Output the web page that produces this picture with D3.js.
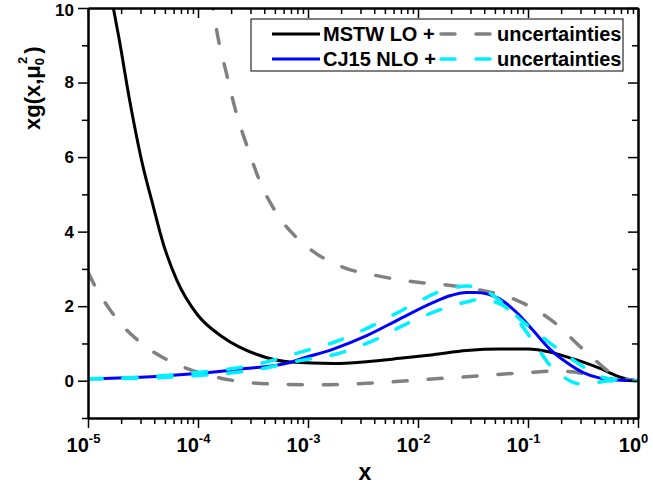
<!DOCTYPE html>
<html>
<head>
<meta charset="utf-8">
<script src="https://cdn.jsdelivr.net/npm/d3@7"></script>
<style>
  body { margin: 0; background: #fff; }
  svg text { font-family: Arial, "Liberation Sans", sans-serif; font-weight: bold; }
</style>
</head>
<body>
<figure id="chart" style="margin:0"></figure>
<script>
// x values of each curve and the gluon densities
const mstwX = [1.58e-5, 1.91e-5, 2.40e-5, 3.16e-5, 3.80e-5, 4.84e-5, 6.46e-5, 9.77e-5, 1.70e-4, 3.39e-4, 6.92e-4,
  1.70e-3, 3.42e-3, 6.85e-3, 1.38e-2, 2.77e-2, 5.56e-2, 0.1, 0.158, 0.225, 0.318, 0.452, 0.64, 0.83, 1.0];
const mstwY = [10.5, 9.2, 7.5, 5.75, 4.83, 3.67, 2.68, 1.79, 1.16, 0.71, 0.50,
  0.46, 0.51, 0.60, 0.70, 0.81, 0.85, 0.85, 0.77, 0.64, 0.50, 0.33, 0.13, 0.03, 0.0];

const mstwUpX = [1.32e-4, 1.48e-4, 1.82e-4, 2.24e-4, 2.75e-4, 3.80e-4, 5.19e-4, 9.77e-4, 2.02e-3, 4.22e-3,
  8.77e-3, 1.82e-2, 3.72e-2, 7.74e-2, 0.164, 0.330, 0.652, 1.0];
const mstwUpY = [10.35, 9.39, 8.23, 7.16, 6.35, 5.23, 4.49, 3.60, 3.06, 2.82,
  2.66, 2.57, 2.43, 2.17, 1.62, 0.80, 0.11, 0.0];

const mstwLowX = [1.0e-5, 1.12e-5, 1.76e-5, 3.53e-5, 7.48e-5, 1.50e-4, 3.18e-4, 6.62e-4, 1.38e-3, 2.86e-3,
  5.96e-3, 1.24e-2, 2.58e-2, 5.37e-2, 0.112, 0.178, 0.251, 0.355, 0.501, 0.708, 1.0];
const mstwLowY = [2.91, 2.62, 1.72, 0.87, 0.36, 0.09, -0.06, -0.10, -0.11, -0.08,
  -0.03, 0.04, 0.10, 0.17, 0.23, 0.26, 0.24, 0.16, 0.07, 0.02, 0.0];

const cjX = [1.0e-5, 2.97e-5, 8.45e-5, 2.41e-4, 6.85e-4, 8.45e-4, 1.70e-3, 3.42e-3, 6.85e-3, 1.38e-2, 1.95e-2,
  2.77e-2, 3.42e-2, 4.22e-2, 5.56e-2, 7.89e-2, 0.112, 0.158, 0.225, 0.318, 0.452, 0.64, 1.0];
const cjY = [0.05, 0.09, 0.18, 0.31, 0.49, 0.58, 0.85, 1.21, 1.66, 2.10, 2.28,
  2.37, 2.37, 2.33, 2.19, 1.83, 1.34, 0.85, 0.49, 0.22, 0.07, 0.02, 0.0];

const cjUpX = [1.0e-5, 3.16e-5, 1.0e-4, 3.16e-4, 8.45e-4, 1.95e-3, 4.0e-3, 8.32e-3, 1.76e-2, 2.82e-2, 3.80e-2,
  5.01e-2, 6.46e-2, 8.71e-2, 0.129, 0.182, 0.275, 0.363, 0.479, 0.692, 1.0];
const cjUpY = [0.05, 0.10, 0.22, 0.42, 0.76, 1.09, 1.50, 1.99, 2.44, 2.54, 2.47,
  2.25, 1.98, 1.62, 1.22, 0.88, 0.50, 0.27, 0.09, 0.02, 0.0];

const cjLowX = [1.0e-5, 3.16e-5, 1.0e-4, 3.16e-4, 8.45e-4, 1.95e-3, 4.0e-3, 8.32e-3, 1.76e-2, 2.82e-2, 3.63e-2,
  4.79e-2, 6.31e-2, 7.94e-2, 0.1, 0.126, 0.158, 0.2, 0.251, 0.316, 0.398, 0.525, 0.708, 1.0];
const cjLowY = [0.05, 0.07, 0.14, 0.28, 0.54, 0.74, 1.09, 1.56, 1.95, 2.12, 2.18,
  2.13, 1.97, 1.65, 1.25, 0.82, 0.42, 0.15, -0.03, -0.09, -0.06, -0.01, 0.0, 0.0];

const xMajor = [1e-5, 1e-4, 1e-3, 1e-2, 1e-1, 1];
const xExponents = ["-5", "-4", "-3", "-2", "-1", "0"];
const yMajor = [0, 2, 4, 6, 8, 10];
const yMinor = [-1, 1, 3, 5, 7, 9];

const width = 653, height = 488;
const margin = {top: 8, right: 15, bottom: 70, left: 88};
const w = width - margin.left - margin.right;
const h = height - margin.top - margin.bottom;

const svg = d3.select("#chart").append("svg")
  .attr("width", width)
  .attr("height", height);

const g = svg.append("g")
  .attr("transform", "translate(" + margin.left + "," + margin.top + ")");

const x = d3.scaleLog().domain([1e-5, 1]).range([0, w]);
const y = d3.scaleLinear().domain([-1, 10]).range([h, 0]);

// minor log ticks 2..9 in every decade
const xMinor = [];
xMajor.slice(0, -1).forEach(d => {
  for (let k = 2; k <= 9; k++) xMinor.push(d * k);
});

g.append("clipPath").attr("id", "plot-clip")
  .append("rect").attr("width", w).attr("height", h);

const line = d3.line()
  .x(d => x(d[0]))
  .y(d => y(d[1]))
  .curve(d3.curveMonotoneX);

const series = [
  {xs: mstwX, ys: mstwY, color: "#000000", dash: null},
  {xs: mstwUpX, ys: mstwUpY, color: "#808080", dash: "14,21"},
  {xs: mstwLowX, ys: mstwLowY, color: "#808080", dash: "14,21"},
  {xs: cjX, ys: cjY, color: "#0000ff", dash: null},
  {xs: cjUpX, ys: cjUpY, color: "#00f0ff", dash: "14,21"},
  {xs: cjLowX, ys: cjLowY, color: "#00f0ff", dash: "14,21"}
];

const curves = g.append("g").attr("clip-path", "url(#plot-clip)");
series.forEach(s => {
  curves.append("path")
    .datum(s.xs.map((v, i) => [v, s.ys[i]]))
    .attr("fill", "none")
    .attr("stroke", s.color)
    .attr("stroke-width", s.dash ? 3.5 : 3)
    .attr("stroke-linecap", s.dash ? "round" : "butt")
    .attr("stroke-dasharray", s.dash)
    .attr("d", line);
});

// axes: bottom and left with outward ticks, top and right mirrored inward
function styleAxis(sel) {
  sel.select(".domain").attr("stroke-width", 2);
  sel.selectAll(".tick line").attr("stroke-width", 1.5);
}

g.append("g").attr("transform", "translate(0," + h + ")")
  .call(d3.axisBottom(x).tickValues(xMinor).tickSize(6).tickFormat("").tickSizeOuter(0))
  .call(styleAxis);
const bottom = g.append("g").attr("transform", "translate(0," + h + ")")
  .call(d3.axisBottom(x).tickValues(xMajor).tickSize(10).tickSizeOuter(0).tickFormat(() => "10"))
  .call(styleAxis);
bottom.selectAll(".tick text")
  .attr("y", 18)
  .attr("dy", "16px")
  .attr("dx", "-5px")
  .style("font-size", "20px")
  .attr("fill", "#000")
  .append("tspan")
  .attr("dy", "-9px")
  .style("font-size", "13px")
  .text((d, i) => xExponents[i]);

g.append("g")
  .call(d3.axisTop(x).tickValues(xMinor).tickSize(-6).tickFormat("").tickSizeOuter(0))
  .call(styleAxis);
g.append("g")
  .call(d3.axisTop(x).tickValues(xMajor).tickSize(-10).tickFormat("").tickSizeOuter(0))
  .call(styleAxis);

g.append("g")
  .call(d3.axisLeft(y).tickValues(yMinor).tickSize(6).tickFormat("").tickSizeOuter(0))
  .call(styleAxis);
g.append("g")
  .call(d3.axisLeft(y).tickValues(yMajor).tickSize(10).tickPadding(4).tickSizeOuter(0))
  .call(styleAxis)
  .selectAll(".tick text")
  .style("font-size", "17px")
  .attr("dy", d => d === 10 ? "0.42em" : "0.32em")
  .attr("fill", "#000");

g.append("g").attr("transform", "translate(" + w + ",0)")
  .call(d3.axisRight(y).tickValues(yMinor).tickSize(-6).tickFormat("").tickSizeOuter(0))
  .call(styleAxis);
g.append("g").attr("transform", "translate(" + w + ",0)")
  .call(d3.axisRight(y).tickValues(yMajor).tickSize(-10).tickFormat("").tickSizeOuter(0))
  .call(styleAxis);

// axis titles
svg.append("text")
  .attr("x", 365)
  .attr("y", 480)
  .attr("text-anchor", "middle")
  .style("font-size", "23px")
  .text("x");

const yTitle = svg.append("text")
  .attr("transform", "translate(40,130) rotate(-90)")
  .style("font-size", "22px");
yTitle.append("tspan").text("xg(x,\u03bc");
yTitle.append("tspan").attr("dy", "4px").style("font-size", "13px").text("0");
yTitle.append("tspan").attr("dx", "-6px").attr("dy", "-17px").style("font-size", "13px").text("2");
yTitle.append("tspan").attr("dx", "3px").attr("dy", "13px").text(")");

// legend
const legend = svg.append("g");
legend.append("rect")
  .attr("x", 251).attr("y", 19)
  .attr("width", 372).attr("height", 52)
  .attr("fill", "#fff")
  .attr("stroke", "#000")
  .attr("stroke-width", 1);

const legendRows = [
  {label: "MSTW LO +", main: "#000000", band: "#808080", y: 34},
  {label: "CJ15 NLO +", main: "#0000ff", band: "#00f0ff", y: 59}
];
legendRows.forEach(r => {
  legend.append("line")
    .attr("x1", 272).attr("x2", 320)
    .attr("y1", r.y).attr("y2", r.y)
    .attr("stroke", r.main).attr("stroke-width", 3);
  legend.append("text")
    .attr("x", 323).attr("y", r.y + 7)
    .style("font-size", "20px")
    .text(r.label);
  legend.append("line")
    .attr("x1", 441).attr("x2", 490)
    .attr("y1", r.y).attr("y2", r.y)
    .attr("stroke", r.band).attr("stroke-width", 3.5)
    .attr("stroke-linecap", "round")
    .attr("stroke-dasharray", "14,21");
  legend.append("text")
    .attr("x", 497).attr("y", r.y + 7)
    .style("font-size", "20px")
    .text("uncertainties");
});
</script>
</body>
</html>
